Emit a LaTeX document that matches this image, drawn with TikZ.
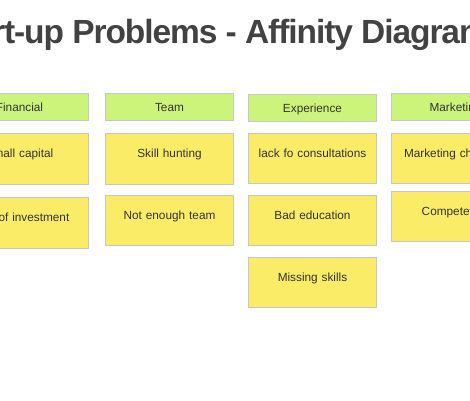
\documentclass[tikz,border=0pt]{standalone}
\usepackage{fontspec}
\setmainfont{Liberation Sans}
\usepackage{tikz}
\definecolor{hdgreen}{HTML}{CCF47A}
\definecolor{ntyellow}{HTML}{FAEC66}
\definecolor{inkgray}{HTML}{333333}
\definecolor{ttlgray}{HTML}{424242}
\tikzset{hd/.style={draw=black!22,line width=1pt,fill=hdgreen,anchor=north west,inner sep=0pt,text width=128pt,align=center,text height=18pt,text depth=9pt,text=inkgray,font=\fontsize{11.8}{13}\selectfont}}
\tikzset{nt/.style={hd,fill=ntyellow,text height=24pt,text depth=27pt}}
\tikzset{nt2/.style={nt,text height=23.5pt,text depth=26.5pt}}
\tikzset{wide/.style={text width=138pt}}

\begin{document}
\begin{tikzpicture}[x=1pt,y=-1pt]
          \useasboundingbox (0,0) rectangle (470,400);
          \clip (0,0) rectangle (470,400);
          \node (title) [anchor=base,text=ttlgray,font=\fontsize{33.5}{36}\selectfont\bfseries\addfontfeature{LetterSpace=-3.2}] at (216,43) {Start-up Problems - Affinity Diagram};
          % financial
          \node (fin) [hd,wide] at (-50,93) {Financial};
          \node (fin1) [nt,wide] at (-50,133) {Small capital};
          \node (fin2) [nt,wide] at (-50,197) {Lack of investment};
          % team
          \node (team) [hd] at (105,93) {Team};
          \node (team1) [nt] at (105,133) {Skill hunting};
          \node (team2) [nt2] at (105,195) {Not enough team};
          % experience
          \node (exp) [hd] at (248,94) {Experience};
          \node (exp1) [nt2] at (248,133) {lack fo consultations};
          \node (exp2) [nt2] at (248,195) {Bad education};
          \node (exp3) [nt2] at (248,257) {Missing skills};
          % marketing
          \node (mkt) [hd] at (391,93) {Marketing};
          \node (mkt1) [nt2] at (391,133) {Marketing channels};
          \node (mkt2) [nt2] at (391,191) {Competetors};
        \end{tikzpicture}
\end{document}
